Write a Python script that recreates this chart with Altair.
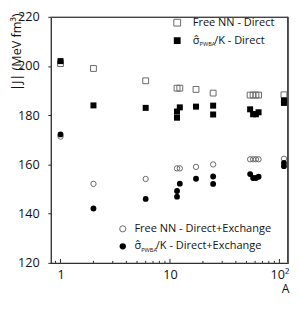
import altair as alt
import pandas as pd

# ---- data ----
A_VALUES = [1, 2, 6, 11.6, 12.3, 17.3, 24.8, 54, 57.5, 61, 64.5, 110]

# open squares: Free NN - Direct
FREE_DIRECT = [201, 199, 194, 191, 191, 190.5, 189, 188.2, 188.2, 188.2, 188.2, 188.3]
# filled squares: sigma_PWBA/K - Direct (A, J)
PWBA_DIRECT_A = [1, 2, 6, 11.6, 11.6, 12.3, 17.3, 24.8, 24.8, 54, 57.5, 61, 64.5, 110, 110]
PWBA_DIRECT_J = [202, 184, 183, 181.5, 179, 183.2, 183.5, 183.9, 180.3, 182.4, 180.4, 180.4, 181.2, 186, 185]
# open circles: Free NN - Direct+Exchange
FREE_EXCH = [171.3, 152.1, 154.1, 158.4, 158.4, 159, 160, 162.1, 162.1, 162.1, 162.1, 162.3]
# filled circles: sigma_PWBA/K - Direct+Exchange (A, J)
PWBA_EXCH_A = [1, 2, 6, 11.6, 11.6, 12.3, 17.3, 24.8, 24.8, 54, 57.5, 61, 64.5, 110, 110]
PWBA_EXCH_J = [172.2, 142.1, 146, 149.2, 146.9, 152.2, 154.2, 155.1, 152.1, 156.1, 154.5, 154.5, 155, 160.6, 159.3]

MINOR_TICKS = [0.9, 2, 3, 4, 5, 6, 7, 8, 9, 20, 30, 40, 50, 60, 70, 80, 90]
MAJOR_TICKS = [1, 10, 100]
Y_TICKS = [120, 140, 160, 180, 200, 220]

FONT = "Open Sans"
W, H = 244, 253

df_fd = pd.DataFrame({"A": A_VALUES, "J": FREE_DIRECT})
df_pd = pd.DataFrame({"A": PWBA_DIRECT_A, "J": PWBA_DIRECT_J})
df_fe = pd.DataFrame({"A": A_VALUES, "J": FREE_EXCH})
df_pe = pd.DataFrame({"A": PWBA_EXCH_A, "J": PWBA_EXCH_J})
df_minor = pd.DataFrame({"A": MINOR_TICKS})
df_major = pd.DataFrame({"A": MAJOR_TICKS})

xscale = alt.Scale(type="log", domain=[0.815, 120], nice=False)
yscale = alt.Scale(domain=[120, 220], nice=False, zero=False)

xenc = alt.X(
    "A:Q", scale=xscale,
    axis=alt.Axis(
        values=MAJOR_TICKS, ticks=False, tickSize=0, grid=False,
        labelExpr="datum.value == 100 ? '10\u00b2' : datum.label",
        labelFontSize=13, labelFont=FONT, labelColor="#111", labelPadding=6,
        domainColor="#222", title="A", titleFont=FONT, titleFontSize=12.5,
        titleFontWeight="normal", titleAnchor="end", titleAlign="right",
        titleBaseline="top", titleY=20, titleX=W + 1, titleColor="#111",
    ),
)
yenc = alt.Y(
    "J:Q", scale=yscale,
    axis=alt.Axis(
        values=Y_TICKS, grid=False, tickSize=3, tickColor="#222",
        labelFontSize=13, labelFont=FONT, labelColor="#111", labelPadding=9,
        domainColor="#222", title="|J| (MeV fm\u00b3)", titleFont=FONT,
        titleFontSize=13, titleFontWeight="normal", titleAngle=270,
        titleAlign="right", titleBaseline="middle", titleX=-35, titleY=-4,
        titleColor="#111",
    ),
)

# plot frame: top and right border of the plot box
one = pd.DataFrame({"k": [0]})
top_edge = alt.Chart(one).mark_rule(color="#444", strokeWidth=1.2).encode(
    x=alt.value(0), x2=alt.value(W), y=alt.value(0.5))
right_edge = alt.Chart(one).mark_rule(color="#444", strokeWidth=1.2).encode(
    x=alt.value(W - 0.5), y=alt.value(0), y2=alt.value(H))

minor = alt.Chart(df_minor).mark_rule(color="#222", strokeWidth=1).encode(
    x=xenc, y=alt.value(H - 2), y2=alt.value(H))
major = alt.Chart(df_major).mark_rule(color="#222", strokeWidth=1).encode(
    x=xenc, y=alt.value(H - 4), y2=alt.value(H))

open_sq = alt.Chart(df_fd).mark_point(shape="square", filled=False, stroke="#666",
                                      strokeWidth=1, size=36, opacity=1).encode(x=xenc, y=yenc)
fill_sq = alt.Chart(df_pd).mark_point(shape="square", filled=True, color="black",
                                      size=38, opacity=1).encode(x=xenc, y=yenc)
open_ci = alt.Chart(df_fe).mark_point(shape="circle", filled=False, stroke="#666",
                                      strokeWidth=1, size=30, opacity=1).encode(x=xenc, y=yenc)
fill_ci = alt.Chart(df_pe).mark_point(shape="circle", filled=True, color="black",
                                      size=36, opacity=1).encode(x=xenc, y=yenc)


# ---- legends (positions relative to the plot area) ----
def sym(x, y, shape, filled, size):
    if filled:
        m = alt.Chart(one).mark_point(shape=shape, filled=True, color="black", size=size, opacity=1)
    else:
        m = alt.Chart(one).mark_point(shape=shape, filled=False, stroke="#666", strokeWidth=1,
                                      size=size, opacity=1)
    return m.encode(x=alt.value(x), y=alt.value(y))


def txt(x, y, s, size=11.3):
    return alt.Chart(one).mark_text(align="left", baseline="middle", font=FONT, fontSize=size,
                                    color="#111").encode(x=alt.value(x), y=alt.value(y),
                                                          text=alt.value(s))


SIG = "\u03c3\u0302"
legend = [
    sym(130, 6, "square", False, 49), txt(146, 6.5, "Free NN - Direct"),
    sym(130, 24.5, "square", True, 49), txt(146, 24.5, SIG), txt(153, 28, "PWBA", 5.8),
    txt(168, 24.5, "/K - Direct"),
    sym(74, 218, "circle", False, 40), txt(86, 218, "Free NN - Direct+Exchange"),
    sym(74, 236, "circle", True, 42), txt(86, 236, SIG), txt(93, 239.5, "PWBA", 5.8),
    txt(108, 236, "/K - Direct+Exchange"),
]

chart = alt.layer(top_edge, right_edge, minor, major, open_sq, fill_sq, open_ci, fill_ci,
                  *legend).properties(
    width=W, height=H,
    autosize=alt.AutoSizeParams(type="none"),
    padding={"left": 44, "top": 5, "right": 3, "bottom": 30},
    background="white",
).configure_view(stroke="#555", strokeWidth=1)

chart.save("out.html", embed_options={"renderer": "svg", "actions": False})
